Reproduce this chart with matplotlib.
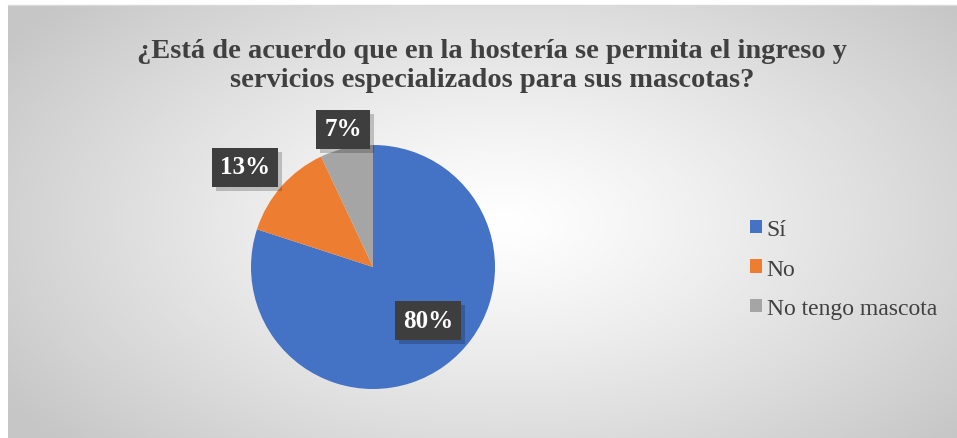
import numpy as np
import matplotlib
matplotlib.use("Agg")
import matplotlib.pyplot as plt
from matplotlib.patches import Patch
from matplotlib import patheffects as pe

categories = ["Sí", "No", "No tengo mascota"]
values = [80, 13, 7]
labels = ["80%", "13%", "7%"]
colors = ["#4472C4", "#ED7D31", "#A5A5A5"]
title = "¿Está de acuerdo que en la hostería se permita el ingreso y\nservicios especializados para sus mascotas?"

W, H = 957, 439
fig = plt.figure(figsize=(W / 100, H / 100), dpi=100)
fig.patch.set_facecolor("white")
serif = ["Liberation Serif", "DejaVu Serif"]

# background radial gradient
x0 = 8 / W
bg = fig.add_axes([x0, 0, 1 - x0, 1 - 6 / H])
bg.set_axis_off()
ny, nx = 300, 600
yy, xx = np.mgrid[0:ny, 0:nx]
cx, cy = 0.52 * nx, 0.50 * ny
d = np.sqrt(((xx - cx) / (0.62 * nx)) ** 2 + ((yy - cy) / (0.75 * ny)) ** 2)
d = np.clip(d, 0, 1)
v = 1.0 - 0.22 * d ** 1.2
img = np.dstack([v, v, v])
bg.imshow(img, aspect="auto", extent=[0, 1, 0, 1], interpolation="bilinear")
bg.set_xlim(0, 1)
bg.set_ylim(0, 1)
fig.add_artist(plt.Line2D([x0, 1], [1 - 5.5 / H, 1 - 5.5 / H], color="#d9d9d9", lw=1))

# pie
cxp, cyp, r = 373 / W, 1 - 268 / H, 122
ax = fig.add_axes([(cxp * W - r) / W, (cyp * H - r) / H, 2 * r / W, 2 * r / H])
ax.set_axis_off()
wedges, _ = ax.pie(values, colors=colors, startangle=90, counterclock=False,
                   radius=1.0, wedgeprops=dict(linewidth=0))
ax.set_xlim(-1, 1)
ax.set_ylim(-1, 1)

label_pos = [(428, 321), (245, 168), (343, 130)]
for (px, py), lab in zip(label_pos, labels):
    t = fig.text(px / W, 1 - py / H, lab, ha="center", va="center", fontsize=18,
                 fontweight="bold", family=serif, color="white",
                 bbox=dict(boxstyle="square,pad=0.32", facecolor="#3e3e3e",
                           edgecolor="none", linewidth=0))
    t.get_bbox_patch().set_path_effects(
        [pe.SimplePatchShadow(offset=(3, -3), shadow_rgbFace="black", alpha=0.2),
         pe.Normal()])

fig.text(492 / W, 1 - 66 / H, title, ha="center", va="center", fontsize=20.5,
         fontweight="bold", color="#404040", family=serif, linespacing=1.18)

handles = [Patch(facecolor=c, edgecolor="none") for c in colors]
leg = fig.legend(handles, categories, loc="center left",
                 bbox_to_anchor=(729 / W, 1 - 270 / H), frameon=False,
                 prop=dict(family=serif, size=17),
                 handlelength=0.5, handleheight=0.5, handletextpad=0.2,
                 labelspacing=0.78, labelcolor="#404040")

fig.savefig("out.png", dpi=100)
